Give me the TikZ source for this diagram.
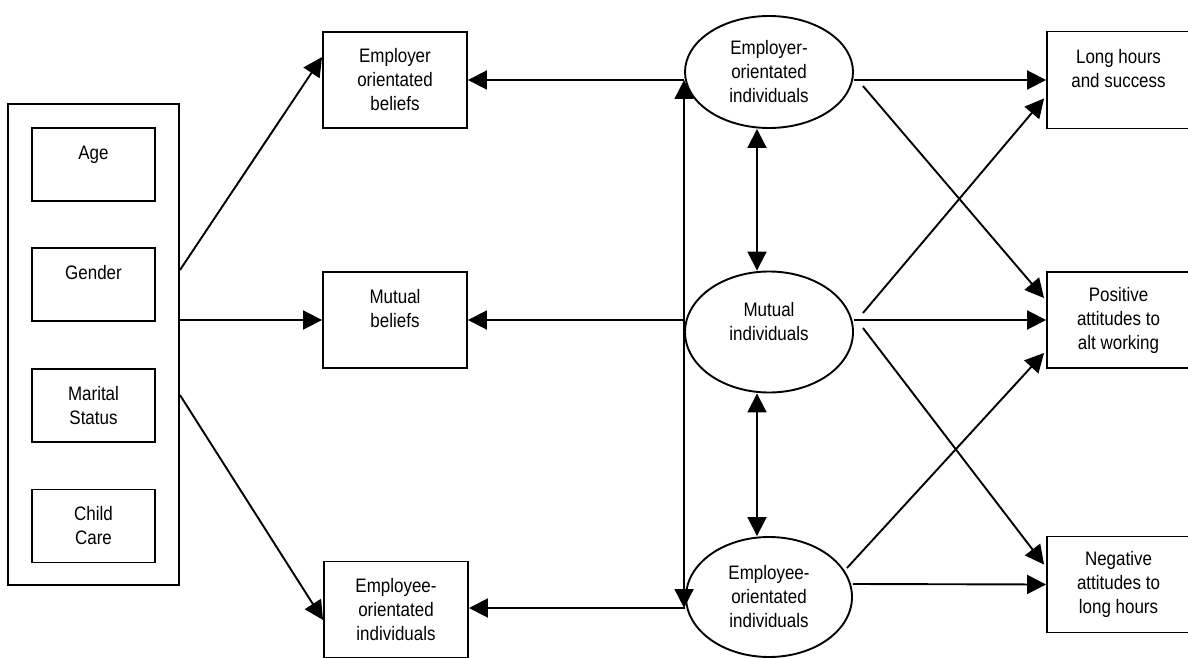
\documentclass[tikz,border=0pt]{standalone}
\usepackage{fontspec}
\setmainfont{Liberation Sans}[FakeStretch=0.87]
\usetikzlibrary{arrows.meta,calc,shapes.geometric}
\begin{document}
\begin{tikzpicture}[x=1pt,y=-1pt,
  every node/.style={font=\fontsize{19.5}{24}\selectfont, align=center, inner sep=0pt},
  box/.style={draw, line width=1.9pt, rectangle},
  inbox/.style={box, minimum width=123pt, minimum height=73pt},
  midbox/.style={box, minimum width=144pt, minimum height=96pt},
  rbox/.style={box, minimum width=143pt, minimum height=96pt},
  oval/.style={draw, ellipse, line width=1.9pt, minimum width=168pt, minimum height=114pt},
  link/.style={line width=1.9pt, -{Triangle[length=19pt,width=19pt]}},
  dlink/.style={line width=1.9pt, {Triangle[length=19pt,width=19pt]}-{Triangle[length=19pt,width=19pt]}},
]
\useasboundingbox (0,0) rectangle (1188,658);

% left group
\node[box, minimum width=171pt, minimum height=481pt] (outer) at (93.5,344.5) {};
\node[inbox] (age) at (93.5,164.5) {Age\\\mbox{}};
\node[inbox] (gender) at (93.5,284.5) {Gender\\\mbox{}};
\node[inbox] (marital) at (93.5,405.5) {Marital\\Status};
\node[inbox] (child) at (93.5,526) {Child\\Care};

% beliefs boxes
\node[midbox] (empb) at (395,80) {Employer\\orientated\\beliefs};
\node[midbox] (mutb) at (395,320) {Mutual\\beliefs\\\mbox{}};
\node[midbox] (empeeb) at (396,609.5) {Employee-\\orientated\\individuals};

% ellipses
\node[oval, minimum height=112pt] (e1) at (769,72) {Employer-\\orientated\\individuals};
\node[oval, minimum height=121pt, label={[align=center,yshift=10pt]center:{Mutual\\individuals}}] (e2) at (769,332) {};
\node[oval, minimum width=166pt, minimum height=120pt] (e3) at (769,597) {Employee-\\orientated\\individuals};

% outcome boxes
\node[rbox, minimum height=97pt] (lh) at (1118.5,80) {Long hours\\and success\\\mbox{}};
\node[rbox] (pos) at (1118.5,320) {Positive\\attitudes to\\alt working};
\node[rbox] (neg) at (1118.5,584.5) {Negative\\attitudes to\\long hours};

% left connectors
\draw[link] ($(outer.north east)+(0,167)$) -- ($(empb.north west)+(0,26)$);
\draw[link] ($(outer.east)+(0,-24.5)$) -- (mutb.west);
\draw[link] ($(outer.east)+(0,50.5)$) -- ($(empeeb.west)+(0,10.5)$);

% ellipses to beliefs
\draw[link] ($(e1.west)+(0,8)$) -- (empb.east);
\draw[link] ($(e2.west)+(0,-12)$) -- (mutb.east);
\draw[link] ($(e3.west)+(0,11)$) -- ($(empeeb.east)+(0,-1.5)$);
\draw[dlink] ($(e1.west)+(0,8)$) -- ($(e3.west)+(-1,11)$);

% between ellipses
\draw[dlink] ($(e1.south)+(-12,0)$) -- ($(e2.north)+(-12,0)$);
\draw[dlink] ($(e2.south)+(-12,0)$) -- ($(e3.north)+(-12,0)$);

% to outcomes
\draw[link] ($(e1.east)+(0,8)$) -- (lh.west);
\draw[link] ($(e1.east)+(9,14)$) -- ($(pos.north west)+(-2,27)$);
\draw[link] ($(e2.east)+(9,-19)$) -- ($(lh.south west)+(-2,-31)$);
\draw[link] ($(e2.east)+(0,-12)$) -- (pos.west);
\draw[link] ($(e2.east)+(9,-4)$) -- ($(neg.north west)+(-2,29)$);
\draw[link] ($(e3.east)+(-6,-29)$) -- ($(pos.south west)+(-2,-16)$);
\draw[link] ($(e3.east)+(0,-13)$) -- (neg.west);
\end{tikzpicture}
\end{document}
